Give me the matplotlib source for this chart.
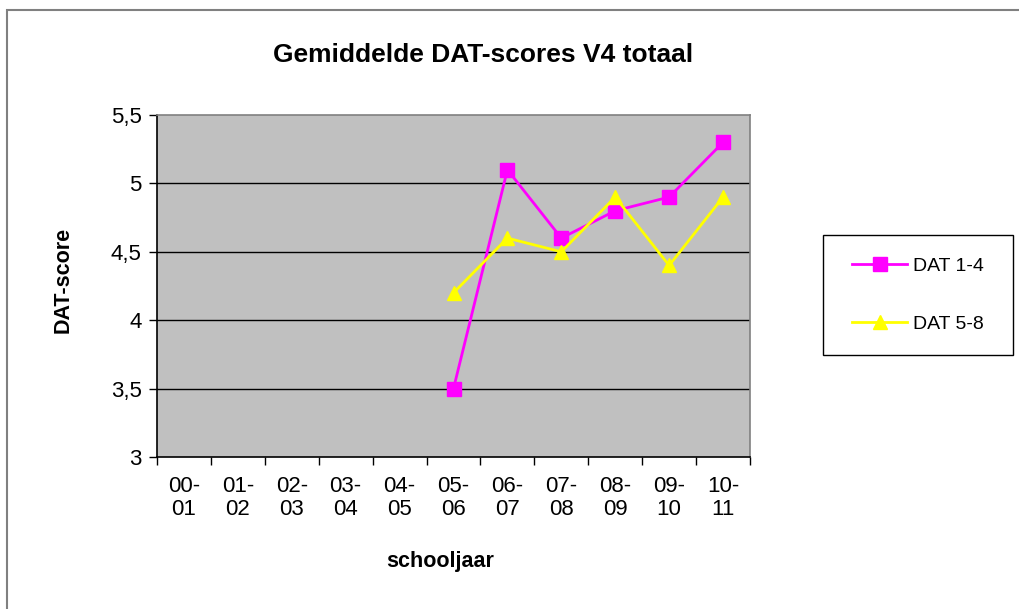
import numpy as np
import matplotlib
matplotlib.use('Agg')
import matplotlib.pyplot as plt
from matplotlib.patches import Rectangle

# ---- data ----
years = ['00-\n01', '01-\n02', '02-\n03', '03-\n04', '04-\n05', '05-\n06',
         '06-\n07', '07-\n08', '08-\n09', '09-\n10', '10-\n11']
dat_14 = [np.nan, np.nan, np.nan, np.nan, np.nan, 3.5, 5.1, 4.6, 4.8, 4.9, 5.3]
dat_58 = [np.nan, np.nan, np.nan, np.nan, np.nan, 4.2, 4.6, 4.5, 4.9, 4.4, 4.9]
yticks = [3, 3.5, 4, 4.5, 5, 5.5]
ytick_labels = ['3', '3,5', '4', '4,5', '5', '5,5']

plt.rcParams['font.family'] = ['Liberation Sans', 'DejaVu Sans']

fig = plt.figure(figsize=(10.2, 6.09), dpi=100)

# outer chart border (only top/left visible)
fig.patches.append(Rectangle((7/1020, -0.1), 1.2, 1 - 10/609 + 0.1,
                             transform=fig.transFigure, fill=False,
                             edgecolor='#808080', linewidth=1.5))

ax = fig.add_axes([157/1020, 1 - 457/609, (750-157)/1020, (457-115)/609])
ax.set_facecolor('#C0C0C0')

x = np.arange(len(years))
l1, = ax.plot(x, dat_14, color='#FF00FF', marker='s', markersize=9.5, linewidth=2,
              label='DAT 1-4', zorder=3)
l2, = ax.plot(x, dat_58, color='#FFFF00', marker='^', markersize=10.5, linewidth=2,
              label='DAT 5-8', zorder=3)

ax.set_xlim(-0.5, len(years) - 0.5)
ax.set_ylim(3, 5.5)
ax.set_yticks(yticks)
ax.set_yticklabels(ytick_labels, fontsize=16)
for yv in [3.5, 4, 4.5, 5]:
    ax.axhline(yv, color='black', linewidth=1, zorder=1)

# categories between tick marks
ax.set_xticks(np.arange(-0.5, len(years)), minor=False)
ax.set_xticklabels([])
ax.set_xticks(x, minor=True)
ax.set_xticklabels(years, minor=True, fontsize=16, linespacing=1.1)
ax.tick_params(axis='x', which='minor', length=0, pad=14)
ax.tick_params(axis='x', which='major', length=6, width=1)
ax.tick_params(axis='y', length=6, width=1, pad=5)

ax.spines['left'].set_color('black')
ax.spines['bottom'].set_color('black')
ax.spines['top'].set_color('#808080')
ax.spines['right'].set_color('#808080')
for s in ax.spines.values():
    s.set_linewidth(1.2)

fig.text(483/1020, 1 - 55/609, 'Gemiddelde DAT-scores V4 totaal',
         ha='center', va='center', fontsize=19, fontweight='bold')
fig.text(440/1020, 1 - 562/609, 'schooljaar',
         ha='center', va='center', fontsize=15.5, fontweight='bold')
fig.text(63/1020, 1 - 280/609, 'DAT-score', rotation=90,
         ha='center', va='center', fontsize=15.5, fontweight='bold')

# legend box
lx0, ly0, lw, lh = 823/1020, 1 - 355/609, 190/1020, 120/609
fig.patches.append(Rectangle((lx0, ly0), lw, lh, transform=fig.transFigure,
                             fill=True, facecolor='white', edgecolor='black',
                             linewidth=1, zorder=1))
leg = fig.legend(handles=[l1, l2], loc='center', bbox_to_anchor=(lx0, ly0, lw, lh),
                 bbox_transform=fig.transFigure, fontsize=14,
                 frameon=False, handlelength=2.8, handletextpad=0.3,
                 labelspacing=2.1, borderpad=0)
leg.set_zorder(5)

fig.savefig('out.png', dpi=100, facecolor='white')
